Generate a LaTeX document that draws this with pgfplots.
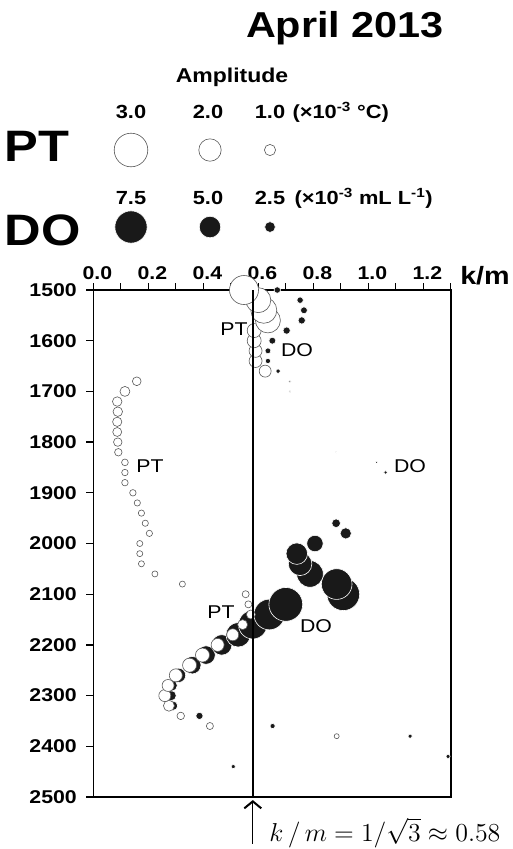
\documentclass[border=0pt]{standalone}
\usepackage{fontspec}
\setmainfont[FakeStretch=1.15]{Liberation Sans}
\usepackage{pgfplots}
\pgfplotsset{compat=1.18}
\usepackage{pgfplotstable}
\usetikzlibrary{arrows.meta}

% Potential temperature: depth (m), k/m, amplitude (x10^-3 degC)
% listed from the deepest level up, so shallower circles lie on top
\pgfplotstableread{
depth k amp
2380 0.885 0.45
2360 0.424 0.63
2340 0.318 0.67
2320 0.275 0.98
2300 0.260 1.07
2280 0.272 1.07
2260 0.300 1.16
2240 0.350 1.25
2220 0.397 1.25
2200 0.452 1.16
2180 0.507 1.07
2160 0.543 0.89
2140 0.573 0.80
2120 0.564 0.63
2100 0.554 0.63
2080 0.324 0.54
2060 0.224 0.54
2040 0.175 0.54
2020 0.169 0.54
2000 0.169 0.54
1980 0.204 0.56
1960 0.189 0.56
1940 0.175 0.56
1920 0.160 0.56
1900 0.144 0.58
1880 0.115 0.58
1860 0.115 0.58
1840 0.115 0.60
1820 0.091 0.67
1800 0.089 0.76
1780 0.087 0.80
1760 0.087 0.83
1740 0.089 0.85
1720 0.087 0.85
1700 0.115 0.89
1680 0.158 0.78
1660 0.625 1.07
1640 0.590 1.16
1620 0.590 1.16
1600 0.585 1.25
1580 0.585 1.25
1560 0.635 2.23
1540 0.620 2.32
1520 0.600 2.23
1500 0.548 2.59
}\pttable

% Dissolved oxygen: depth (m), k/m, amplitude (x10^-3 mL/L)
\pgfplotstableread{
depth k amp
2440 0.509 0.95
2420 1.290 0.95
2380 1.152 0.95
2360 0.652 1.19
2340 0.386 1.67
2320 0.290 2.14
2300 0.283 2.38
2280 0.285 2.62
2260 0.310 3.33
2240 0.360 4.05
2220 0.410 4.29
2200 0.467 4.76
2180 0.527 5.71
2160 0.580 6.67
2140 0.640 7.14
2120 0.700 7.86
2100 0.909 7.62
2080 0.885 7.14
2060 0.788 6.19
2040 0.752 5.48
2020 0.740 5.00
2000 0.806 3.81
1980 0.918 2.62
1960 0.883 2.02
1860 1.063 0.90
1840 1.030 0.60
1820 0.883 0.35
1700 0.715 0.45
1680 0.715 0.55
1660 0.672 1.00
1640 0.635 1.22
1620 0.635 1.35
1600 0.651 1.60
1580 0.703 1.70
1560 0.758 1.70
1540 0.766 1.60
1520 0.752 1.50
1500 0.669 1.50
}\dotable

% key symbols (page coordinates of the key, amplitude)
\pgfplotstableread{
x y amp
131 150 3.0
210 150 2.0
270 150 1.0
}\ptkey
\pgfplotstableread{
x y amp
131 227 7.5
210 227 5.0
270 227 2.5
}\dokey

\pgfplotsset{
  ptcircles/.style={scatter, only marks, mark=*,
    scatter/use mapped color={draw=black!65, fill=white},
    mark options={line width=0.6pt},
    visualization depends on={\thisrow{amp} \as \amp},
    scatter/@pre marker code/.append style={/tikz/mark size=5.6*\amp}},
  docircles/.style={scatter, only marks, mark=*,
    scatter/use mapped color={draw=white, fill=black!90},
    mark options={line width=0.6pt},
    visualization depends on={\thisrow{amp} \as \amp},
    scatter/@pre marker code/.append style={/tikz/mark size=2.15*\amp}},
}

\begin{document}
\begin{tikzpicture}
\useasboundingbox (0pt,0pt) rectangle (512pt,-849pt);

\begin{axis}[
  at={(93.3pt,-290pt)}, anchor=north west,
  scale only axis, width=357.5pt, height=507pt,
  xmin=0, xmax=1.3, ymin=1500, ymax=2500, y dir=reverse,
  clip mode=individual,
  axis line style={line width=1.5pt},
  xtick={0,0.2,0.4,0.6,0.8,1.0,1.2},
  minor xtick={0.1,0.3,0.5,0.7,0.9,1.1,1.3},
  ytick={1500,1600,...,2500},
  xtick pos=right, xticklabel pos=right,
  ytick pos=left, yticklabel pos=left,
  tick align=outside,
  major tick length=7pt, minor tick length=7pt,
  every tick/.style={black, line width=1.3pt},
  scaled ticks=false,
  /pgf/number format/assume math mode=true,
  tick label style={font=\bfseries\fontsize{18.5}{20}\selectfont},
  xticklabel style={/pgf/number format/.cd, fixed, fixed zerofill, precision=1, /tikz/.cd, xshift=4pt},
  yticklabel style={/pgf/number format/.cd, set thousands separator={}, /tikz/.cd, xshift=-6pt},
]
\addplot[docircles] table[x=k, y=depth] {\dotable};
\addplot[ptcircles] table[x=k, y=depth] {\pttable};
\draw[line width=1.6pt] (axis cs:0.58,1500) -- (axis cs:0.58,2500);
\draw[line width=0.9pt, -{Straight Barb[length=7pt,width=17pt,line width=2pt]}]
  (axis cs:0.58,2592) -- (axis cs:0.58,2506);
\end{axis}

% titles, key and labels laid out in page coordinates
\begin{axis}[
  at={(0pt,0pt)}, anchor=north west,
  scale only axis, width=512pt, height=849pt,
  xmin=0, xmax=512, ymin=0, ymax=849, y dir=reverse,
  hide axis, clip=false,
]
\addplot[ptcircles] table[x=x, y=y] {\ptkey};
\addplot[docircles] table[x=x, y=y] {\dokey};

\node[anchor=base, font=\bfseries\fontsize{36}{40}\selectfont] at (345,37) {April 2013};
\node[anchor=base, font=\bfseries\fontsize{20}{22}\selectfont] at (232,82) {Amplitude};
\begin{scope}[every node/.style={anchor=base, font=\bfseries\fontsize{19}{21}\selectfont}]
  \node at (131,118) {3.0};
  \node at (208,118) {2.0};
  \node at (270,118) {1.0};
  \node[anchor=base west] at (289,118) {(×10\textsuperscript{-3} °C)};
  \node at (131,204) {7.5};
  \node at (208,204) {5.0};
  \node at (270,204) {2.5};
  \node[anchor=base west] at (291,204) {(×10\textsuperscript{-3} mL L\textsuperscript{-1})};
\end{scope}
\node[anchor=base west, font=\bfseries\fontsize{44}{48}\selectfont] at (1,161) {PT};
\node[anchor=base west, font=\bfseries\fontsize{44}{48}\selectfont] at (1,245) {DO};
\node[anchor=base east, inner xsep=0pt, font=\bfseries\fontsize{25}{28}\selectfont] at (510,284) {k/m};

\begin{scope}[every node/.style={anchor=base, font=\fontsize{18.5}{20}\selectfont}]
  \node at (234,335) {PT};
  \node at (297,356) {DO};
  \node at (150,472) {PT};
  \node at (410,472) {DO};
  \node at (221,618) {PT};
  \node at (316,632) {DO};
\end{scope}

\node[anchor=base west, font=\Large, scale=1.8] at (263,841) {$k\,/\,m = 1/\sqrt{3}\approx 0.58$};
\end{axis}
\end{tikzpicture}
\end{document}
